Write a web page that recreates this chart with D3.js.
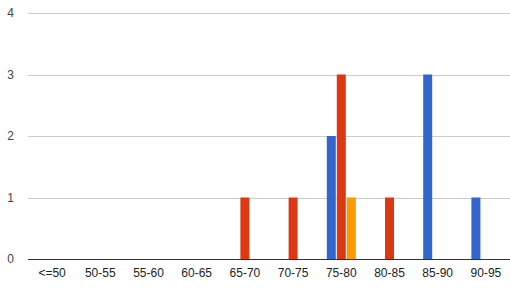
<!DOCTYPE html>
<html lang="en">
<head>
    <meta charset="UTF-8">
    <title>Column chart</title>
    <script src="https://d3js.org/d3.v7.min.js"></script>
    <style>
        body { margin: 0; background: #fff; }
        svg text { font-family: Arial, "Liberation Sans", sans-serif; font-size: 12px; }
        .grid line { stroke: #cccccc; shape-rendering: crispEdges; }
    </style>
</head>
<body>
<svg width="510" height="292"></svg>
<script>
    // Categories and the three series
    const categories = ["<=50", "50-55", "55-60", "60-65", "65-70", "70-75", "75-80", "80-85", "85-90", "90-95"];
    const seriesBlue   = [0, 0, 0, 0, 0, 0, 2, 0, 3, 1];
    const seriesRed    = [0, 0, 0, 0, 1, 1, 3, 1, 0, 0];
    const seriesOrange = [0, 0, 0, 0, 0, 0, 1, 0, 0, 0];
    const yTicks = [0, 1, 2, 3, 4];

    const colors = ["#3366cc", "#dc3912", "#ff9900"];
    const series = [seriesBlue, seriesRed, seriesOrange];

    const svg = d3.select("svg");

    const x = d3.scaleBand()
        .domain(categories)
        .range([28, 510]);

    // bars within a group
    const xs = d3.scaleBand()
        .domain([0, 1, 2])
        .range([-14.5, 14.5])
        .paddingInner(0.1);

    const y = d3.scaleLinear()
        .domain([0, 4])
        .range([259, 13]);

    // gridlines
    svg.append("g")
        .attr("class", "grid")
        .selectAll("line")
        .data(yTicks.filter(d => d > 0))
        .enter().append("line")
        .attr("x1", 28)
        .attr("x2", 510)
        .attr("y1", d => Math.round(y(d)) + 0.5)
        .attr("y2", d => Math.round(y(d)) + 0.5);

    // y labels
    svg.append("g")
        .selectAll("text")
        .data(yTicks)
        .enter().append("text")
        .attr("x", 14)
        .attr("y", d => y(d) + 4)
        .attr("text-anchor", "end")
        .attr("fill", "#444")
        .text(d => d);

    // bars
    const rows = categories.map((c, i) => series.map((s, k) => ({ cat: c, k: k, v: s[i] })));
    svg.append("g")
        .selectAll("g")
        .data(rows)
        .enter().append("g")
        .selectAll("rect")
        .data(d => d.filter(b => b.v > 0))
        .enter().append("rect")
        .attr("x", d => x(d.cat) + x.bandwidth() / 2 + xs(d.k))
        .attr("width", xs.bandwidth())
        .attr("y", d => y(d.v))
        .attr("height", d => y(0) - y(d.v))
        .attr("fill", d => colors[d.k]);

    // baseline
    svg.append("line")
        .attr("x1", 28)
        .attr("x2", 510)
        .attr("y1", Math.round(y(0)) + 0.5)
        .attr("y2", Math.round(y(0)) + 0.5)
        .attr("stroke", "#333")
        .attr("shape-rendering", "crispEdges");

    // x labels
    svg.append("g")
        .selectAll("text")
        .data(categories)
        .enter().append("text")
        .attr("x", d => x(d) + x.bandwidth() / 2)
        .attr("y", 277)
        .attr("text-anchor", "middle")
        .attr("fill", "#222")
        .text(d => d);
</script>
</body>
</html>
